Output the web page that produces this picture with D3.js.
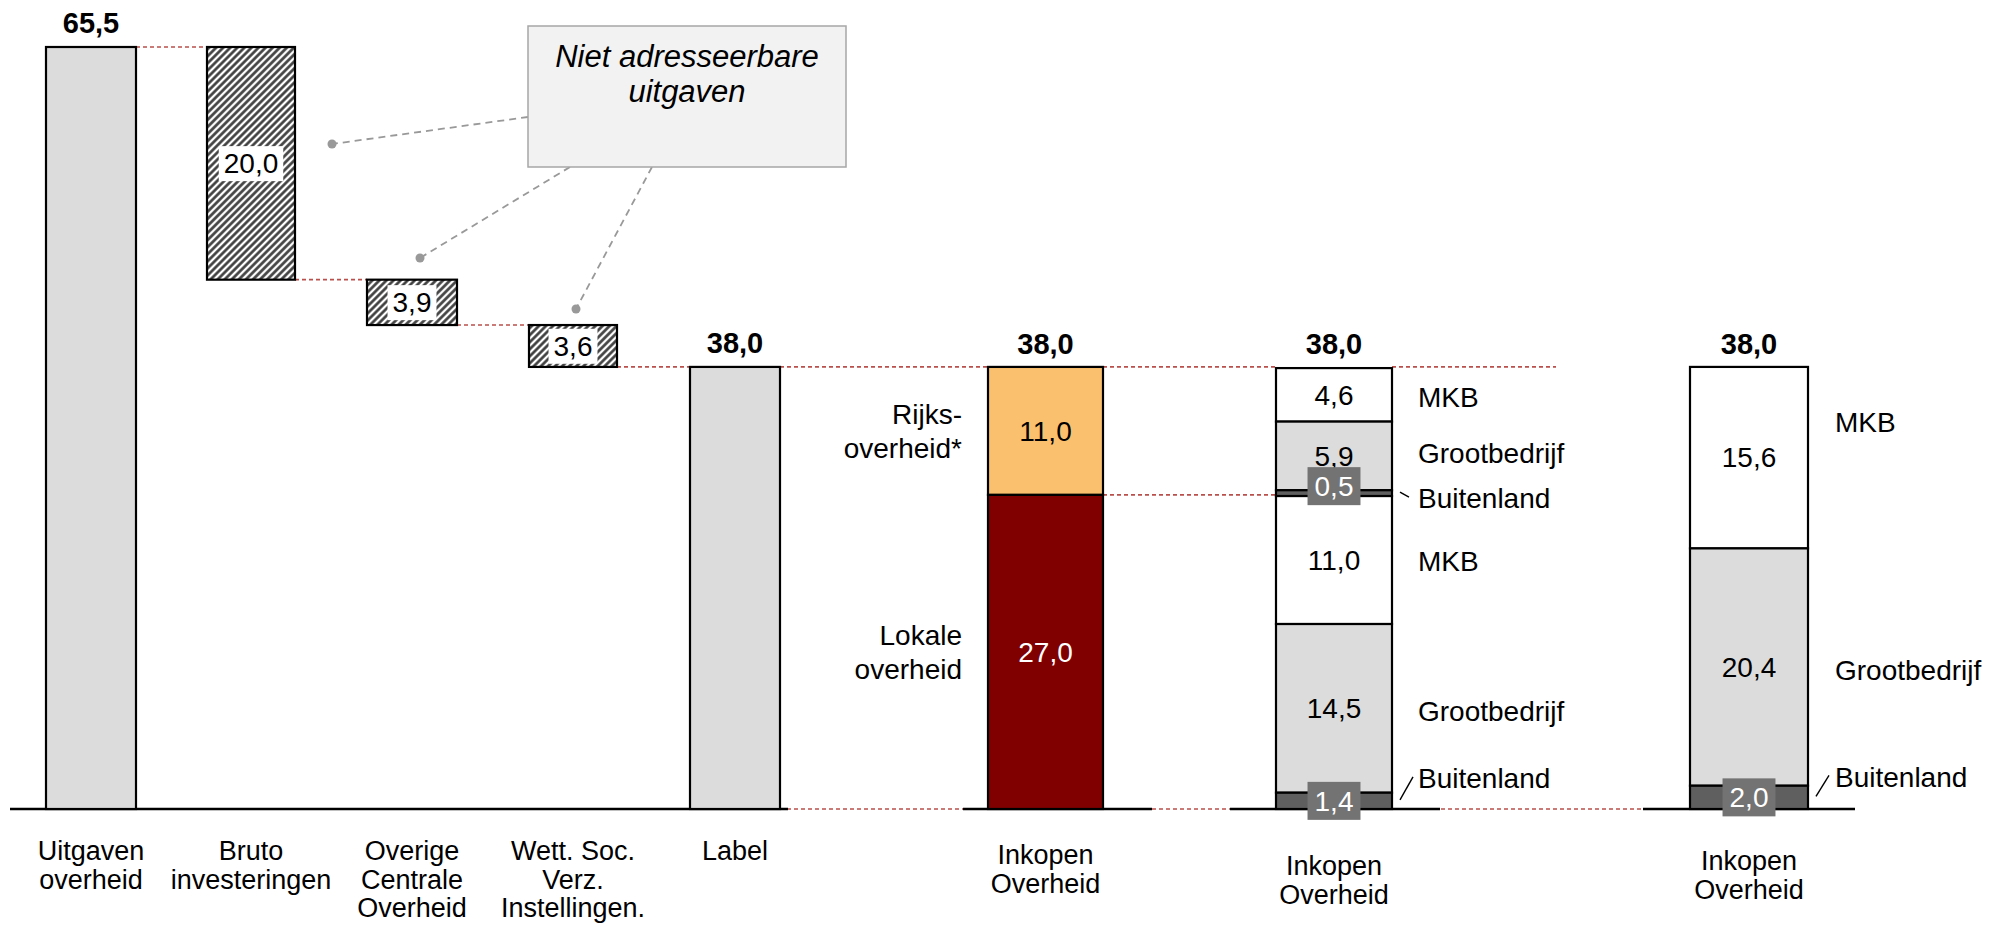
<!DOCTYPE html>
<meta charset="utf-8">
<style>
body { margin: 0; background: #fff; }
svg { font-family: "Liberation Sans", Arial, sans-serif; }
.value { font-size: 28px; }
.total { font-size: 29px; font-weight: bold; }
.cat { font-size: 27px; }
.side { font-size: 28px; }
.note { font-size: 31px; font-style: italic; }
</style>
<body>
<script src="https://d3js.org/d3.v7.min.js"></script>
<script>

// ---- data ----
var catKeys = ["uitgaven", "bruto", "overige", "wett", "label", "inkopen1", "inkopen2", "inkopen3"];
var catLabels = [
    ["Uitgaven", "overheid"],
    ["Bruto", "investeringen"],
    ["Overige", "Centrale", "Overheid"],
    ["Wett. Soc.", "Verz.", "Instellingen."],
    ["Label"],
    ["Inkopen", "Overheid"],
    ["Inkopen", "Overheid"],
    ["Inkopen", "Overheid"]
];

// waterfall part (first five columns)
var waterfallValues = [65.5, 20.0, 3.9, 3.6, 38.0];
var waterfallKinds = ["total", "minus", "minus", "minus", "total"];

// split by government layer (top to bottom)
var overheidNames = [["Rijks-", "overheid*"], ["Lokale", "overheid"]];
var overheidValues = [11.0, 27.0];

// split by supplier, per government layer (top to bottom)
var sectorNames1 = ["MKB", "Grootbedrijf", "Buitenland", "MKB", "Grootbedrijf", "Buitenland"];
var sectorValues1 = [4.6, 5.9, 0.5, 11.0, 14.5, 1.4];

// split by supplier, total (top to bottom)
var sectorNames2 = ["MKB", "Grootbedrijf", "Buitenland"];
var sectorValues2 = [15.6, 20.4, 2.0];

// ---- layout ----
var W = 1995, H = 928;
var svg = d3.select("body").append("svg")
    .attr("width", W)
    .attr("height", H);

var x = d3.scaleOrdinal().domain(catKeys)
    .range([91, 251, 412, 573, 735, 1045.5, 1334, 1749]);
var bw = d3.scaleOrdinal().domain(catKeys)
    .range([90, 88, 90, 88, 90, 115, 116, 118]);
var y = d3.scaleLinear().domain([0, 65.5]).range([809, 47]);

function left(k) { return x(k) - bw(k) / 2; }
function right(k) { return x(k) + bw(k) / 2; }

var fmt = function(v) { return d3.format(".1f")(v).replace(".", ","); };

var fills = {
    total: "#dcdcdc",
    minus: "url(#hatch)",
    Rijks: "#fbc06e",
    Lokale: "#800000",
    MKB: "#ffffff",
    Grootbedrijf: "#dcdcdc",
    Buitenland: "#5f5f5f"
};

// hatch pattern
var defs = svg.append("defs");
var pat = defs.append("pattern")
    .attr("id", "hatch")
    .attr("patternUnits", "userSpaceOnUse")
    .attr("width", 5)
    .attr("height", 5)
    .attr("patternTransform", "rotate(45)");
pat.append("rect").attr("width", 5).attr("height", 5).attr("fill", "#fff");
pat.append("line")
    .attr("x1", 1.5).attr("y1", 0).attr("x2", 1.5).attr("y2", 5)
    .attr("stroke", "#3a3a3a")
    .attr("stroke-width", 2.6);

// ---- build rects ----
var rects = [];
var running = 0;
var levels = [];
waterfallValues.forEach(function(v, i) {
    var k = catKeys[i], y0, y1;
    if (waterfallKinds[i] == "total") { y0 = 0; y1 = v; running = v; }
    else { y1 = running; y0 = running - v; running = y0; }
    levels.push(running);
    rects.push({key: k, y0: y0, y1: y1, v: v, fill: fills[waterfallKinds[i]], kind: waterfallKinds[i]});
});

function stack(key, names, values, kindOf) {
    var top = d3.sum(values);
    var out = [];
    values.forEach(function(v, i) {
        var kind = kindOf(names[i], i);
        out.push({key: key, y0: top - v, y1: top, v: v, name: names[i], fill: fills[kind], kind: kind, i: i});
        top -= v;
    });
    return out;
}
var redStack = stack("inkopen1", overheidNames, overheidValues, function(n) { return n[0].slice(0, 5) == "Rijks" ? "Rijks" : "Lokale"; });
var stack1 = stack("inkopen2", sectorNames1, sectorValues1, function(n) { return n; });
var stack2 = stack("inkopen3", sectorNames2, sectorValues2, function(n) { return n; });
rects = rects.concat(redStack, stack1, stack2);

// ---- connectors (red dashed) ----
var conn = svg.append("g")
    .attr("fill", "none")
    .attr("stroke", "#b9504c")
    .attr("stroke-width", 1.6)
    .attr("stroke-dasharray", "4,3");

function hline(g, x1, x2, v) {
    g.append("line").attr("x1", x1).attr("x2", x2).attr("y1", y(v)).attr("y2", y(v));
}
for (var i = 0; i < 4; i++) hline(conn, right(catKeys[i]), left(catKeys[i + 1]), levels[i]);
var total = waterfallValues[4];
hline(conn, right("label"), left("inkopen1"), total);
hline(conn, right("inkopen1"), left("inkopen2"), total);
hline(conn, right("inkopen2"), right("inkopen2") + 164, total);
hline(conn, right("inkopen1"), left("inkopen2"), overheidValues[1]);
hline(conn, right("label"), left("inkopen1"), 0);
hline(conn, right("inkopen1"), left("inkopen2"), 0);
hline(conn, right("inkopen2"), left("inkopen3"), 0);

// ---- baseline ----
var base = svg.append("g").attr("stroke", "#000").attr("stroke-width", 2.6);
[[10, right("label") + 8], [left("inkopen1") - 25, right("inkopen1") + 49],
 [left("inkopen2") - 46, right("inkopen2") + 48], [left("inkopen3") - 47, right("inkopen3") + 47]]
    .forEach(function(s) {
        base.append("line").attr("x1", s[0]).attr("x2", s[1]).attr("y1", y(0)).attr("y2", y(0));
    });

// ---- bars ----
svg.append("g").selectAll("rect")
    .data(rects)
    .enter().append("rect")
    .attr("x", function(d) { return left(d.key); })
    .attr("width", function(d) { return bw(d.key); })
    .attr("y", function(d) { return y(d.y1); })
    .attr("height", function(d) { return y(d.y0) - y(d.y1); })
    .attr("fill", function(d) { return d.fill; })
    .attr("stroke", "#000")
    .attr("stroke-width", 2.2);

// ---- value labels ----
var vl = svg.append("g");
rects.forEach(function(d) {
    if (d.kind == "total") return;
    var cy = (y(d.y0) + y(d.y1)) / 2;
    if (d.kind == "Buitenland" && d.key == "inkopen2" && d.i == 2) cy -= 7;
    var g = vl.append("g");
    var t = g.append("text")
        .attr("class", "value")
        .attr("x", x(d.key))
        .attr("y", cy)
        .attr("dy", "0.35em")
        .attr("text-anchor", "middle")
        .attr("fill", (d.kind == "Lokale" || d.kind == "Buitenland") ? "#fff" : "#000")
        .text(fmt(d.v));
    var bb = t.node().getBBox();
    if (d.kind == "minus") {
        var bx0 = Math.max(bb.x - 5, left(d.key) + 1.5), bx1 = Math.min(bb.x + bb.width + 5, right(d.key) - 1.5);
        var by0 = Math.max(bb.y - 2, y(d.y1) + 1.5), by1 = Math.min(bb.y + bb.height + 2, y(d.y0) - 1.5);
        g.insert("rect", "text").attr("x", bx0).attr("y", by0)
            .attr("width", bx1 - bx0).attr("height", by1 - by0).attr("fill", "#fff");
    }
    if (d.kind == "Buitenland") {
        g.insert("rect", "text").attr("x", bb.x - 7).attr("y", cy - 19)
            .attr("width", bb.width + 14).attr("height", 38).attr("fill", "#737373");
    }
});

// totals on top
[0, 4].forEach(function(i) {
    svg.append("text").attr("class", "total")
        .attr("x", x(catKeys[i])).attr("y", y(waterfallValues[i]) - 14)
        .attr("text-anchor", "middle").text(fmt(waterfallValues[i]));
});
["inkopen1", "inkopen2", "inkopen3"].forEach(function(k) {
    svg.append("text").attr("class", "total")
        .attr("x", x(k)).attr("y", y(total) - 13)
        .attr("text-anchor", "middle").text(fmt(total));
});

// ---- category labels ----
var catTop = [860, 860, 860, 860, 860, 864, 875, 870];
catKeys.forEach(function(k, i) {
    var t = svg.append("text").attr("class", "cat")
        .attr("text-anchor", "middle");
    catLabels[i].forEach(function(line, j) {
        t.append("tspan").attr("x", x(k)).attr("y", catTop[i] + j * 28.5).text(line);
    });
});

// ---- labels left of the red bar ----
redStack.forEach(function(d) {
    var cy = (y(d.y0) + y(d.y1)) / 2;
    var t = svg.append("text").attr("class", "side").attr("text-anchor", "end");
    d.name.forEach(function(line, j) {
        t.append("tspan").attr("x", left(d.key) - 26)
            .attr("y", cy + (j - 0.5) * 34 + 10).text(line);
    });
});

// ---- labels right of the stacked bars ----
var sideShift1 = [2, -3, 5, 1, 3, -23];
var sideShift2 = [-35, 3, -20];
function sideLabels(data, shifts, dx) {
    data.forEach(function(d, i) {
        var cy = (y(d.y0) + y(d.y1)) / 2 + shifts[i];
        svg.append("text").attr("class", "side")
            .attr("x", right(d.key) + dx).attr("y", cy).attr("dy", "0.35em")
            .text(d.name);
    });
}
sideLabels(stack1, sideShift1, 26);
sideLabels(stack2, sideShift2, 27);

// small leader ticks for the thin Buitenland segments
var ticks = svg.append("g").attr("stroke", "#000").attr("stroke-width", 1.4);
function tick(d, x1, y1) {
    var cy = (y(d.y0) + y(d.y1)) / 2;
    ticks.append("line").attr("x1", right(d.key) + 8).attr("y1", cy - 1)
        .attr("x2", right(d.key) + x1).attr("y2", cy + y1);
}
tick(stack1[2], 17, 4);
tick(stack1[5], 21, -24);
tick(stack2[2], 21, -22);

// ---- annotation ----
var note = svg.append("g");
var leaders = [[528, 117, 332, 144], [570, 167, 420, 258], [652, 167, 576, 309]];
leaders.forEach(function(l) {
    note.append("line").attr("x1", l[0]).attr("y1", l[1]).attr("x2", l[2]).attr("y2", l[3])
        .attr("stroke", "#999").attr("stroke-width", 1.8).attr("stroke-dasharray", "7,5");
    note.append("circle").attr("cx", l[2]).attr("cy", l[3]).attr("r", 4.5).attr("fill", "#999");
});
note.append("rect").attr("x", 528).attr("y", 26).attr("width", 318).attr("height", 141)
    .attr("fill", "#f2f2f2").attr("stroke", "#a6a6a6").attr("stroke-width", 1.5);
var nt = note.append("text").attr("class", "note").attr("text-anchor", "middle");
nt.append("tspan").attr("x", 687).attr("y", 67).text("Niet adresseerbare");
nt.append("tspan").attr("x", 687).attr("y", 102).text("uitgaven");

</script>
